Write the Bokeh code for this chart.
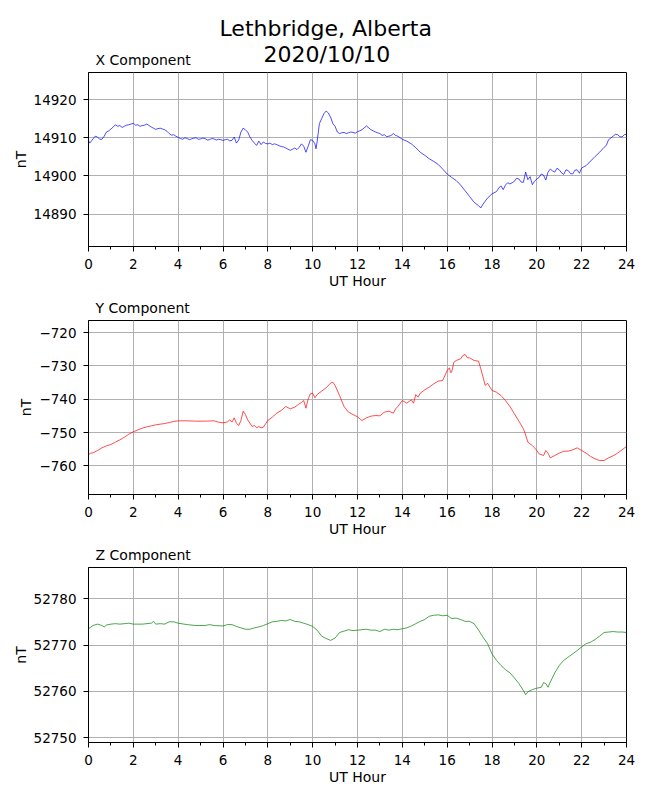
from bokeh.plotting import figure
from bokeh.layouts import column
from bokeh.models import FixedTicker, Title, CustomJSTickFormatter, Range1d
from bokeh.embed import file_html
from bokeh.resources import INLINE

FONT = "DejaVu Sans"

main_title_1 = "Lethbridge, Alberta"
main_title_2 = "2020/10/10"
x_label = "UT Hour"
y_label = "nT"
x_ticks = [0, 2, 4, 6, 8, 10, 12, 14, 16, 18, 20, 22, 24]
x_minor = list(range(0, 25))

# ---- X component ----
x_hours = [0.0, 0.05, 0.1, 0.2, 0.3, 0.4, 0.5, 0.6, 0.7, 0.8, 0.9, 1.0, 1.1, 1.2, 1.3, 1.4, 1.5, 1.6, 1.7, 1.8, 1.9,
           2.0, 2.1, 2.2, 2.3, 2.4, 2.5, 2.6, 2.7, 2.8, 2.9, 3.0, 3.1, 3.2, 3.3, 3.4, 3.5, 3.6, 3.7, 3.8, 3.9,
           4.0, 4.1, 4.2, 4.3, 4.4, 4.5, 4.6, 4.7, 4.8, 4.9, 5.0, 5.1, 5.2, 5.3, 5.4, 5.5, 5.6, 5.7, 5.8, 5.9,
           6.0, 6.1, 6.2, 6.3, 6.4, 6.5, 6.6, 6.7, 6.8, 6.9, 7.0, 7.1, 7.2, 7.3, 7.4, 7.5, 7.6, 7.7, 7.8, 7.9,
           8.0, 8.1, 8.2, 8.3, 8.4, 8.5, 8.6, 8.7, 8.8, 8.9, 9.0, 9.1, 9.2, 9.3, 9.4, 9.5, 9.6, 9.7, 9.8, 9.9,
           10.0, 10.1, 10.15, 10.2, 10.3, 10.4, 10.5, 10.6, 10.7, 10.8, 10.9, 11.0, 11.1, 11.2, 11.3, 11.4, 11.5,
           11.6, 11.7, 11.8, 11.9, 12.0, 12.1, 12.2, 12.3, 12.4, 12.5, 12.6, 12.7, 12.8, 12.9, 13.0, 13.1, 13.2,
           13.3, 13.4, 13.5, 13.6, 13.7, 13.8, 13.9, 14.0, 14.2, 14.4, 14.5, 14.6, 14.8, 15.0, 15.2, 15.4, 15.6,
           15.8, 16.0, 16.2, 16.4, 16.6, 16.8, 17.0, 17.2, 17.4, 17.5, 17.6, 17.8, 18.0, 18.2, 18.3, 18.4, 18.5,
           18.6, 18.7, 18.8, 18.9, 19.0, 19.1, 19.2, 19.3, 19.4, 19.5, 19.6, 19.7, 19.8, 19.9, 20.0, 20.1, 20.2,
           20.3, 20.4, 20.5, 20.6, 20.7, 20.8, 20.9, 21.0, 21.1, 21.2, 21.3, 21.4, 21.5, 21.6, 21.7, 21.8, 21.9,
           22.0, 22.2, 22.4, 22.6, 22.8, 23.0, 23.1, 23.2, 23.3, 23.4, 23.5, 23.6, 23.7, 23.8, 23.9, 24.0]
x_values = [14909.3, 14908.6, 14908.9, 14909.7, 14910.4, 14910.2, 14909.6, 14909.6, 14910.4, 14911.5, 14911.8,
            14912.3, 14912.8, 14913.4, 14913.0, 14913.2, 14912.7, 14913.0, 14913.3, 14913.4, 14913.6,
            14913.8, 14913.3, 14913.4, 14913.0, 14913.2, 14913.3, 14913.6, 14913.2, 14912.8, 14912.5,
            14912.2, 14912.4, 14912.5, 14912.3, 14912.1, 14911.7, 14911.1, 14910.7, 14910.8, 14910.4,
            14910.1, 14909.8, 14909.6, 14910.0, 14909.8, 14909.5, 14909.7, 14909.9, 14910.0, 14909.6,
            14909.7, 14909.9, 14909.8, 14909.4, 14909.5, 14909.8, 14909.7, 14909.4, 14909.6, 14909.5,
            14909.3, 14909.5, 14909.6, 14909.2, 14909.3, 14910.2, 14908.6, 14909.4, 14911.5, 14912.5,
            14912.1, 14911.5, 14910.2, 14909.3, 14908.6, 14908.0, 14909.1, 14908.2, 14908.9, 14908.5,
            14908.4, 14908.6, 14908.2, 14908.4, 14908.2, 14907.9, 14907.7, 14907.6, 14907.3, 14907.0,
            14906.7, 14907.0, 14907.3, 14906.9, 14907.5, 14908.4, 14907.8, 14906.2, 14907.8, 14909.5,
            14909.3, 14908.4, 14907.1, 14909.0, 14913.7, 14915.0, 14916.3, 14917.0, 14916.5, 14915.4,
            14913.7, 14913.0, 14911.5, 14911.1, 14911.3, 14911.4, 14911.1, 14911.3, 14911.5, 14911.4,
            14911.2, 14911.6, 14911.8, 14912.1, 14912.6, 14913.1, 14912.6, 14912.1, 14911.8, 14911.5,
            14911.3, 14911.1, 14910.6, 14910.8, 14910.3, 14910.4, 14910.6, 14911.1, 14910.6, 14910.4,
            14910.0, 14909.6, 14909.1, 14908.4, 14907.9, 14907.4, 14906.2, 14905.4, 14904.5, 14903.8,
            14903.0, 14901.8, 14900.5, 14899.6, 14898.8, 14897.6, 14896.1, 14894.6, 14893.1, 14892.2,
            14891.6, 14892.6, 14894.2, 14895.3, 14895.9, 14896.8, 14897.4, 14896.4, 14897.6, 14898.2,
            14897.9, 14898.2, 14898.6, 14899.4, 14899.2, 14898.4, 14898.3, 14901.0, 14899.0, 14899.8,
            14897.7, 14898.6, 14899.2, 14899.6, 14900.5, 14900.2, 14898.9, 14901.0, 14901.8, 14901.3,
            14901.0, 14902.0, 14901.6, 14900.8, 14900.4, 14901.6, 14901.4, 14900.6, 14900.5, 14901.5,
            14901.6, 14900.7, 14902.1, 14902.7, 14903.9, 14905.1, 14906.2, 14907.5, 14908.0, 14909.5,
            14909.9, 14910.4, 14910.9, 14910.8, 14910.3, 14910.2, 14910.8, 14910.9]

# ---- Y component ----
y_hours = [0.0, 0.1, 0.2, 0.4, 0.6, 0.8, 1.0, 1.2, 1.4, 1.6, 1.8, 2.0, 2.2, 2.4, 2.6, 2.8, 3.0, 3.2, 3.4, 3.6, 3.8,
           4.0, 4.4, 4.8, 5.2, 5.6, 5.8, 6.0, 6.2, 6.3, 6.4, 6.5, 6.6, 6.7, 6.8, 6.9, 7.0, 7.1, 7.2, 7.3, 7.4,
           7.5, 7.6, 7.7, 7.8, 7.9, 8.0, 8.2, 8.4, 8.6, 8.8, 9.0, 9.2, 9.4, 9.5, 9.6, 9.7, 9.8, 9.9, 10.0, 10.1,
           10.2, 10.4, 10.6, 10.8, 10.9, 11.0, 11.2, 11.4, 11.6, 11.8, 12.0, 12.2, 12.4, 12.6, 12.8, 13.0, 13.2,
           13.4, 13.6, 13.7, 13.8, 14.0, 14.2, 14.4, 14.5, 14.6, 14.7, 14.8, 15.0, 15.2, 15.4, 15.6, 15.8, 16.0,
           16.1, 16.15, 16.2, 16.3, 16.4, 16.6, 16.7, 16.8, 16.9, 17.0, 17.2, 17.4, 17.5, 17.6, 17.7, 17.8, 18.0,
           18.2, 18.4, 18.6, 18.8, 19.0, 19.2, 19.4, 19.5, 19.6, 19.8, 20.0, 20.1, 20.3, 20.4, 20.5, 20.6, 20.8,
           21.0, 21.2, 21.4, 21.6, 21.8, 22.0, 22.2, 22.4, 22.6, 22.8, 23.0, 23.2, 23.4, 23.6, 23.8, 24.0]
y_values = [-756.6, -756.2, -756.1, -755.4, -754.6, -754.0, -753.6, -752.9, -752.2, -751.4, -750.5, -749.8,
            -749.2, -748.7, -748.3, -748.0, -747.7, -747.5, -747.3, -747.0, -746.7, -746.5, -746.5, -746.6,
            -746.6, -746.5, -746.9, -747.1, -746.8, -746.2, -746.9, -745.6, -747.2, -747.9, -746.4, -743.6,
            -744.6, -746.2, -747.2, -748.2, -747.9, -748.6, -748.2, -748.6, -748.4, -747.4, -746.4, -745.4,
            -744.2, -743.4, -742.2, -742.9, -742.4, -741.4, -741.0, -740.4, -742.7, -739.9, -738.4, -738.2,
            -739.6, -738.6, -737.6, -736.6, -735.2, -734.9, -735.9, -738.9, -742.2, -743.9, -744.6, -745.3,
            -746.4, -745.6, -745.1, -744.9, -745.0, -743.9, -743.6, -744.2, -742.9, -742.2, -740.4, -741.2,
            -740.2, -741.2, -738.6, -739.4, -738.2, -737.2, -736.4, -735.4, -734.6, -734.4, -731.4, -730.6,
            -732.0, -731.9, -728.9, -728.4, -727.9, -726.9, -726.6, -727.6, -727.6, -728.4, -728.6, -730.9,
            -733.4, -735.9, -735.2, -737.4, -737.9, -738.9, -740.4, -742.2, -744.4, -746.6, -748.9, -750.7,
            -752.9, -753.9, -755.4, -756.4, -756.9, -755.4, -756.2, -757.6, -756.9, -756.2, -755.6, -755.6,
            -755.2, -754.6, -755.4, -756.2, -757.2, -757.9, -758.4, -758.4, -757.6, -757.0, -756.2, -755.2,
            -754.2]

# ---- Z component ----
z_hours = [0.0, 0.2, 0.4, 0.6, 0.7, 0.8, 1.0, 1.2, 1.4, 1.6, 1.8, 2.0, 2.4, 2.8, 2.9, 3.0, 3.2, 3.4, 3.6, 3.8,
           4.0, 4.4, 4.8, 5.2, 5.4, 5.6, 6.0, 6.2, 6.4, 6.6, 6.8, 7.0, 7.2, 7.4, 7.6, 7.8, 8.0, 8.2, 8.4, 8.6,
           8.8, 9.0, 9.2, 9.4, 9.6, 9.8, 10.0, 10.2, 10.4, 10.6, 10.8, 11.0, 11.2, 11.4, 11.6, 11.8, 12.0, 12.2,
           12.4, 12.6, 12.8, 13.0, 13.2, 13.4, 13.6, 13.8, 14.0, 14.2, 14.4, 14.6, 14.8, 15.0, 15.2, 15.4, 15.6,
           15.8, 16.0, 16.2, 16.4, 16.6, 16.8, 17.0, 17.2, 17.4, 17.6, 17.8, 18.0, 18.2, 18.4, 18.6, 18.8, 19.0,
           19.2, 19.4, 19.5, 19.6, 19.8, 20.0, 20.2, 20.3, 20.4, 20.5, 20.6, 20.8, 21.0, 21.2, 21.4, 21.6, 21.8,
           22.0, 22.2, 22.4, 22.6, 22.8, 23.0, 23.2, 23.4, 23.6, 23.8, 24.0]
z_values = [52773.5, 52774.2, 52774.5, 52774.2, 52773.9, 52774.3, 52774.5, 52774.6, 52774.5, 52774.6, 52774.7,
            52774.5, 52774.5, 52774.7, 52775.1, 52774.5, 52774.6, 52774.5, 52775.0, 52775.0, 52774.7, 52774.4,
            52774.2, 52774.2, 52774.4, 52774.2, 52774.1, 52774.4, 52774.4, 52774.0, 52773.7, 52773.4, 52773.4,
            52773.7, 52773.9, 52774.2, 52774.6, 52775.0, 52775.1, 52775.3, 52775.2, 52775.5, 52775.1, 52775.0,
            52774.7, 52774.4, 52774.0, 52773.2, 52771.9, 52771.4, 52771.0, 52771.5, 52772.7, 52773.0, 52773.3,
            52773.1, 52773.2, 52773.3, 52773.4, 52773.2, 52773.2, 52772.9, 52773.4, 52773.2, 52773.4, 52773.3,
            52773.5, 52773.7, 52774.1, 52774.6, 52775.1, 52775.5, 52776.2, 52776.4, 52776.5, 52776.3, 52776.4,
            52775.7, 52775.8, 52775.5, 52775.1, 52775.1, 52774.6, 52773.2, 52771.7, 52770.3, 52768.1, 52766.7,
            52765.6, 52764.7, 52764.0, 52762.9, 52761.7, 52760.2, 52759.3, 52759.9, 52760.4, 52760.7, 52760.9,
            52761.9, 52761.7, 52760.9, 52762.0, 52764.0, 52765.6, 52766.7, 52767.4, 52768.1, 52768.8, 52769.6,
            52770.3, 52770.6, 52771.2, 52771.9, 52772.7, 52772.8, 52772.9, 52772.8, 52772.8, 52772.7]

panels = [
    ("X Component", x_hours, x_values, "#0000ff", (14881.5, 14927.1), [14890, 14900, 14910, 14920]),
    ("Y Component", y_hours, y_values, "#ff0000", (-768.6, -716.4), [-760, -750, -740, -730, -720]),
    ("Z Component", z_hours, z_values, "#008000", (52749.0, 52786.7), [52750, 52760, 52770, 52780]),
]
sizes = [(292, 72, 46), (247, 28, 45), (253, 28, 50)]

fmt_code = "return (tick < 0 ? '\u2212' : '') + Math.abs(tick).toFixed(0);"


def make_title(text, size, align, offset, standoff):
    return Title(text=text, align=align, offset=offset, standoff=standoff, text_font=FONT,
                 text_font_size=size, text_font_style="normal", text_color="black")


figs = []
for i, ((ttl, hrs, vals, col, yr, yt), (h, bt, bb)) in enumerate(zip(panels, sizes)):
    p = figure(width=642, height=h, output_backend="svg", toolbar_location=None,
               x_range=Range1d(0, 24), y_range=Range1d(*yr),
               min_border_left=88, min_border_right=16, min_border_top=bt, min_border_bottom=bb,
               title=None)
    p.add_layout(make_title(ttl, "14px", "left", 7, 9), "above")
    if i == 0:
        p.add_layout(make_title(main_title_2, "22px", "left", 175, -43), "above")
        p.add_layout(make_title(main_title_1, "22px", "left", 131, 9), "above")

    p.line(hrs, vals, line_color=col, line_width=0.7)

    p.xaxis.ticker = FixedTicker(ticks=x_ticks, minor_ticks=x_minor)
    p.yaxis.ticker = FixedTicker(ticks=yt, minor_ticks=[])
    p.yaxis.formatter = CustomJSTickFormatter(code=fmt_code)
    p.xaxis.axis_label = x_label
    p.yaxis.axis_label = y_label
    for ax in (p.xaxis, p.yaxis):
        ax.axis_label_text_font = FONT
        ax.axis_label_text_font_size = "14px"
        ax.axis_label_text_font_style = "normal"
        ax.axis_label_text_color = "black"
        ax.major_label_text_font = FONT
        ax.major_label_text_font_size = "13.5px"
        ax.major_label_text_color = "black"
        ax.axis_line_color = "black"
        ax.major_tick_line_color = "black"
        ax.minor_tick_line_color = "black"
        ax.major_tick_in = 0
        ax.major_tick_out = 5
        ax.minor_tick_in = 0
        ax.minor_tick_out = 3
    p.xaxis.major_label_standoff = 7
    p.yaxis.major_label_standoff = 7
    p.xaxis.axis_label_standoff = 1
    p.yaxis.axis_label_standoff = 2
    p.grid.grid_line_color = "#b0b0b0"
    p.grid.grid_line_width = 1
    p.outline_line_color = "black"
    p.outline_line_width = 1
    p.outline_line_alpha = 1
    p.background_fill_color = "white"
    p.border_fill_color = "white"
    figs.append(p)

layout = column(*figs, spacing=0)
open("out.html", "w").write(file_html(layout, INLINE))
